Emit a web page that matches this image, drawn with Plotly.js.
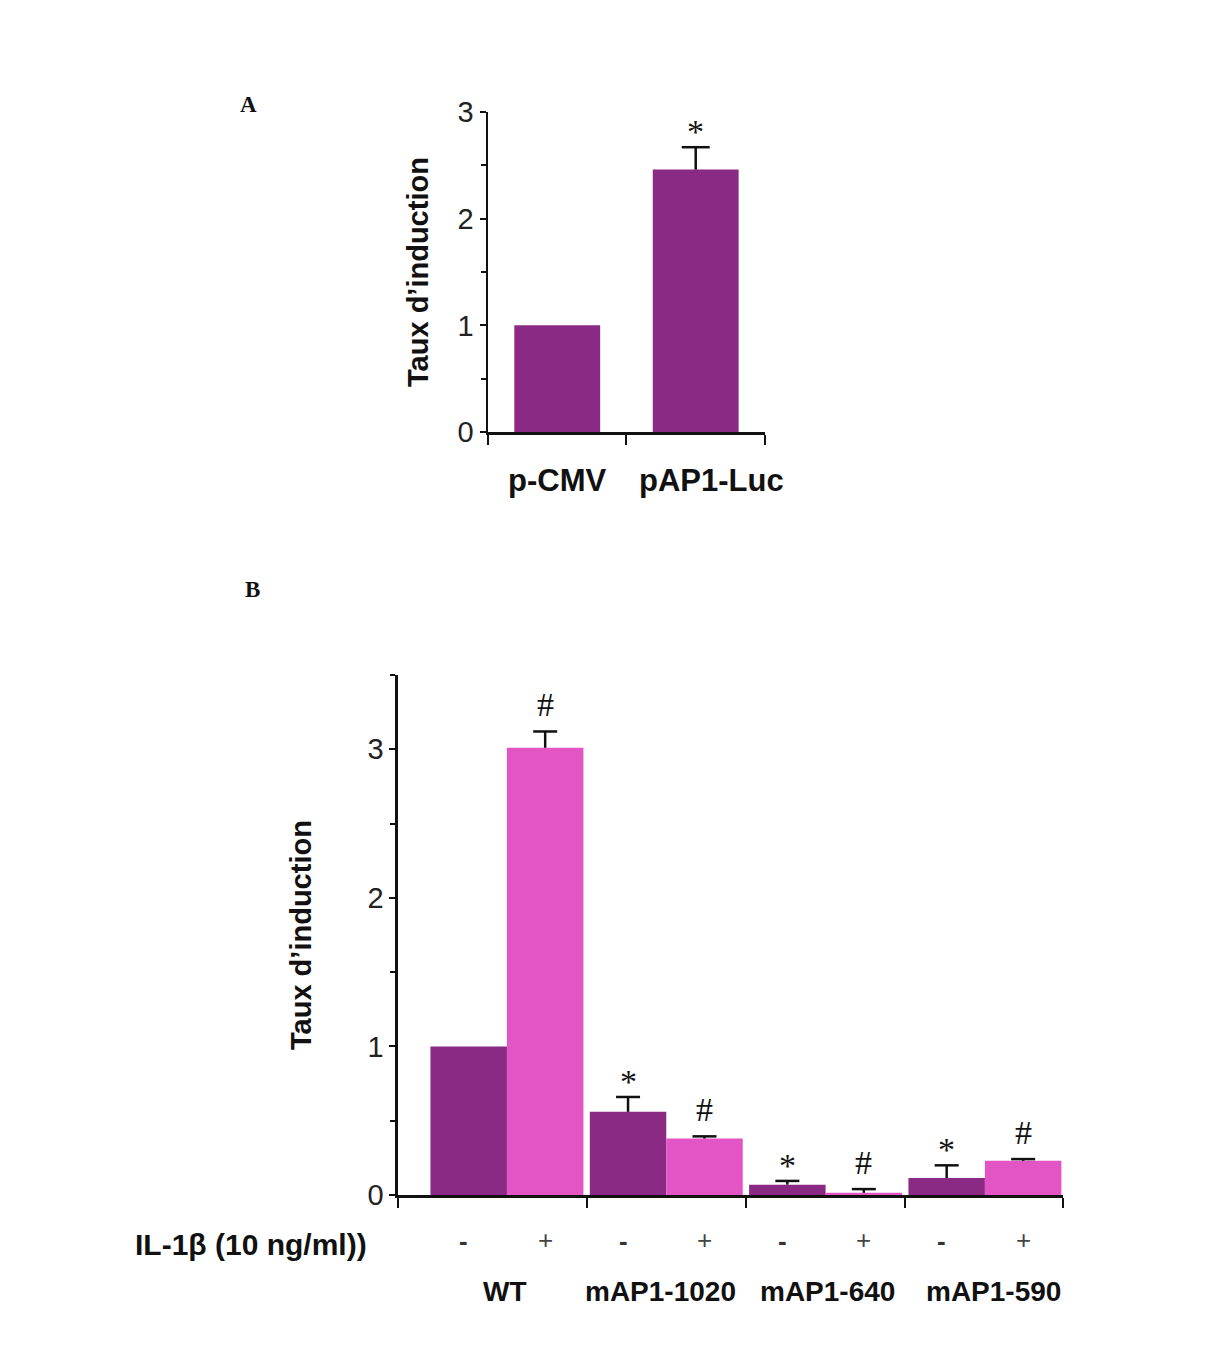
<!DOCTYPE html>
<html><head><meta charset="utf-8">
<script src="https://cdn.plot.ly/plotly-3.0.1.min.js"></script>
<style>html,body{margin:0;padding:0;background:#fff}</style>
</head><body><div id="chart" style="width:1220px;height:1356px"></div>
<script>
// ---------- Panel A data ----------
const catsA = ['p-CMV', 'pAP1-Luc'];
const valsA = [1.0, 2.46];
const errA  = [null, 0.21];
const sigA  = ['', '*'];

// ---------- Panel B data ----------
const groupsB    = ['WT', 'mAP1-1020', 'mAP1-640', 'mAP1-590'];
const valsMinus  = [1.0, 0.56, 0.07, 0.115];
const errMinus   = [null, 0.10, 0.025, 0.085];
const valsPlus   = [3.01, 0.38, 0.015, 0.23];
const errPlus    = [0.11, 0.015, 0.025, 0.012];
const sigMinus   = ['', '*', '*', '*'];
const sigPlus    = ['#', '#', '#', '#'];
const treatLabel = 'IL-1β (10 ng/ml))';
const treatSigns = ['-', '+'];
const yTitle     = 'Taux d’induction';
const yTicksA    = [0, 1, 2, 3];
const yTicksB    = [0, 1, 2, 3];

// ---------- styles ----------
const DARK = '#8B2A85', PINK = '#E354C4', INK = '#111';
const SANS = 'Liberation Sans, Arial, sans-serif';
const SERIF = 'Liberation Serif, Times New Roman, serif';
const BAR_W = 0.48;

const idxA = catsA.map((_, i) => i);
const idxB = groupsB.map((_, i) => i);

const traces = [
  {type:'bar', x:idxA, y:valsA, xaxis:'x', yaxis:'y', width:0.62, offset:-0.31,
   marker:{color:DARK, line:{width:0}}, hoverinfo:'skip', showlegend:false},
  {type:'bar', x:idxB, y:valsMinus, xaxis:'x2', yaxis:'y2', width:BAR_W, offset:-BAR_W,
   marker:{color:DARK, line:{width:0}}, hoverinfo:'skip', showlegend:false},
  {type:'bar', x:idxB, y:valsPlus, xaxis:'x2', yaxis:'y2', width:BAR_W, offset:0,
   marker:{color:PINK, line:{width:0}}, hoverinfo:'skip', showlegend:false}
];

// upward-only error bars (no lower cap), placed through the axes' data scales
const shapes = [];
function errBar(x, v, e, xr, yr, half) {
  if (e === null) return;
  const line = {color:INK, width:2.5};
  shapes.push({type:'line', layer:'above', xref:xr, yref:yr, x0:x, x1:x, y0:v, y1:v + e, line:line});
  shapes.push({type:'line', layer:'above', xref:xr, yref:yr, xsizemode:'pixel', xanchor:x,
    x0:-half, x1:half, y0:v + e, y1:v + e, line:line});
}
idxA.forEach(i => errBar(i, valsA[i], errA[i], 'x', 'y', 14));
idxB.forEach(i => {
  errBar(i - BAR_W/2, valsMinus[i], errMinus[i], 'x2', 'y2', 12);
  errBar(i + BAR_W/2, valsPlus[i],  errPlus[i],  'x2', 'y2', 12);
});

const ann = [];
function sig(text, x, y, xr, yr) {
  if (!text) return;
  ann.push({text:text, x:x, y:y, xref:xr, yref:yr, xanchor:'center', yanchor:'bottom',
    yshift: text === '*' ? -5 : 6, showarrow:false, font:{family:SERIF, size:34, color:INK}});
}
idxA.forEach(i => sig(sigA[i], i, valsA[i] + (errA[i] || 0), 'x', 'y'));
idxB.forEach(i => {
  sig(sigMinus[i], i - BAR_W/2, valsMinus[i] + (errMinus[i] || 0), 'x2', 'y2');
  sig(sigPlus[i],  i + BAR_W/2, valsPlus[i]  + (errPlus[i]  || 0), 'x2', 'y2');
});
// panel A category labels
const labelShiftA = [0, 16];
idxA.forEach(i => ann.push({text:catsA[i], x:i, y:0.646, xref:'x', yref:'paper', xshift:labelShiftA[i],
  xanchor:'center', yanchor:'middle', showarrow:false, font:{family:SANS, size:31, weight:700, color:INK}}));
// panel B treatment row and groups
const labelShiftB = [-2, -6, 2, 9];
ann.push({text:treatLabel, x:0.109, y:0.0819, xref:'paper', yref:'paper', xanchor:'left', yanchor:'middle',
  showarrow:false, font:{family:SANS, size:30, weight:700, color:INK}});
idxB.forEach(i => {
  ann.push({text:treatSigns[0], x:i - BAR_W/2, y:0.0848, xref:'x2', yref:'paper', xanchor:'center', yanchor:'middle',
    xshift:-5, showarrow:false, font:{family:SANS, size:26, weight:700, color:'#333'}});
  ann.push({text:treatSigns[1], x:i + BAR_W/2, y:0.0855, xref:'x2', yref:'paper', xanchor:'center', yanchor:'middle',
    showarrow:false, font:{family:SANS, size:26, color:'#444'}});
  ann.push({text:groupsB[i], x:i, y:0.0472, xref:'x2', yref:'paper', xanchor:'center', yanchor:'middle',
    xshift:labelShiftB[i], showarrow:false, font:{family:SANS, size:28, weight:700, color:INK}});
});
// panel letters
ann.push({text:'A', x:0.2033, y:0.9226, xref:'paper', yref:'paper', xanchor:'center', yanchor:'middle',
  showarrow:false, font:{family:SERIF, size:23, weight:700, color:INK}});
ann.push({text:'B', x:0.2066, y:0.5649, xref:'paper', yref:'paper', xanchor:'center', yanchor:'middle',
  showarrow:false, font:{family:SERIF, size:23, weight:700, color:INK}});

const xBase = {showline:true, linewidth:2.5, linecolor:INK, ticks:'outside', tickwidth:2, tickcolor:INK,
  ticklen:10, showgrid:false, zeroline:false, fixedrange:true, tickmode:'array'};
const yBase = {showline:true, linewidth:2.5, linecolor:INK, ticks:'outside', tickwidth:2, tickcolor:INK,
  ticklen:6, showgrid:false, zeroline:false, fixedrange:true, tickmode:'array',
  tickfont:{family:SANS, size:29, color:'#222'},
  minor:{dtick:0.5, tick0:0, ticks:'outside', ticklen:5, tickwidth:2, tickcolor:INK, showgrid:false}};

const layout = {
  width:1220, height:1356, margin:{l:0, r:0, t:0, b:0},
  paper_bgcolor:'#fff', plot_bgcolor:'rgba(0,0,0,0)',
  barmode:'group', showlegend:false,
  xaxis: Object.assign({}, xBase, {domain:[0.4, 0.627], range:[-0.5, 1.5], anchor:'y',
    tickvals:[-0.5, 0.5, 1.5], ticktext:['', '', '']}),
  yaxis: Object.assign({}, yBase, {domain:[0.6814, 0.9174], range:[0, 3], anchor:'x',
    tickvals:yTicksA, ticktext:yTicksA.map(String),
    title:{text:yTitle, standoff:21, font:{family:SANS, size:29, weight:700, color:INK}}}),
  xaxis2: Object.assign({}, xBase, {domain:[0.3262, 0.8713], range:[-0.684, 3.49], anchor:'y2',
    tickvals:[-0.684, 0.5, 1.5, 2.5, 3.49], ticktext:['', '', '', '', '']}),
  yaxis2: Object.assign({}, yBase, {domain:[0.1187, 0.5022], range:[0, 3.5], anchor:'x2',
    tickvals:yTicksB, ticktext:yTicksB.map(String),
    title:{text:yTitle, standoff:48, font:{family:SANS, size:29, weight:700, color:INK}}}),
  shapes: shapes,
  annotations: ann
};

Plotly.newPlot('chart', traces, layout, {staticPlot:true, displayModeBar:false});
</script>
</body></html>
